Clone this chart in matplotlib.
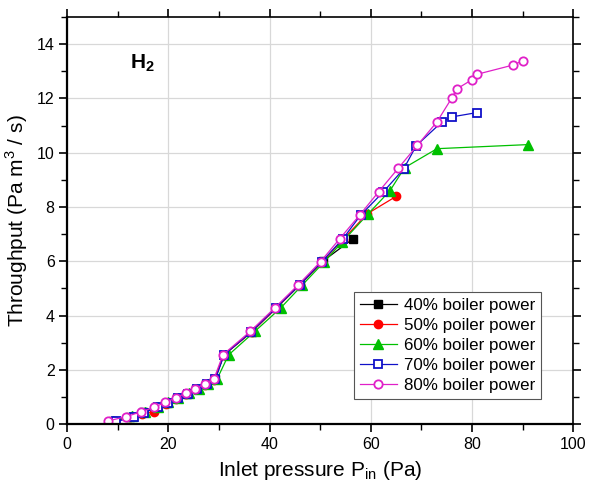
"""
H2 throughput vs inlet pressure for several boiler power levels.
"""
import matplotlib

matplotlib.use("Agg")
import matplotlib.pyplot as plt
from matplotlib.ticker import MultipleLocator

plt.rcParams["font.family"] = ["Liberation Sans", "DejaVu Sans"]
plt.rcParams["mathtext.fontset"] = "custom"
plt.rcParams["mathtext.rm"] = "Liberation Sans"
plt.rcParams["mathtext.bf"] = "Liberation Sans:bold"

# 40 % boiler power
p40 = [9.0, 12.5, 15.0, 17.5, 19.7, 21.7, 23.6, 25.5, 27.4, 29.2, 31.0, 36.5, 41.3, 46.0, 50.5, 56.5]
q40 = [0.10, 0.27, 0.44, 0.62, 0.79, 0.96, 1.13, 1.31, 1.48, 1.66, 2.56, 3.41, 4.28, 5.14, 6.00, 6.83]

# 50 % boiler power
p50 = [9.0, 12.5, 14.8, 17.2, 19.5, 21.5, 23.5, 25.4, 27.3, 29.1, 31.0, 36.5, 41.3, 46.0, 50.4, 54.5, 59.3, 65.0]
q50 = [0.10, 0.27, 0.38, 0.45, 0.75, 0.93, 1.10, 1.28, 1.46, 1.64, 2.55, 3.40, 4.27, 5.13, 5.98, 6.80, 7.75, 8.39]

# 60 % boiler power
p60 = [9.0, 12.8, 15.3, 18.0, 20.0, 22.0, 24.0, 26.0, 27.9, 29.6, 31.9, 37.1, 42.2, 46.5, 50.8, 54.4, 59.5, 63.8, 66.7, 73.1, 91.0]
q60 = [0.12, 0.30, 0.46, 0.63, 0.80, 0.97, 1.14, 1.31, 1.48, 1.65, 2.55, 3.42, 4.28, 5.13, 5.98, 6.72, 7.75, 8.60, 9.45, 10.15, 10.30]

# 70 % boiler power
p70 = [9.7, 13.3, 15.2, 17.9, 19.9, 21.9, 23.8, 25.7, 27.6, 29.3, 31.0, 36.4, 41.2, 46.0, 50.3, 54.5, 58.0, 62.5, 66.5, 69.0, 74.1, 76.0, 81.0]
q70 = [0.10, 0.26, 0.43, 0.62, 0.79, 0.96, 1.13, 1.30, 1.48, 1.65, 2.55, 3.40, 4.27, 5.13, 5.98, 6.83, 7.70, 8.56, 9.40, 10.26, 11.14, 11.32, 11.48]

# 80 % boiler power
p80 = [8.1, 11.7, 14.5, 17.2, 19.3, 21.5, 23.4, 25.3, 27.2, 29.0, 30.8, 36.2, 41.0, 45.7, 50.1, 53.9, 57.8, 61.6, 65.4, 69.2, 73.1, 76.0, 77.0, 80.0, 81.0, 88.1, 90.1]
q80 = [0.12, 0.28, 0.45, 0.62, 0.80, 0.97, 1.14, 1.31, 1.48, 1.66, 2.56, 3.42, 4.28, 5.14, 5.99, 6.84, 7.70, 8.57, 9.42, 10.27, 11.14, 12.01, 12.35, 12.69, 12.89, 13.23, 13.39]

fig = plt.figure(figsize=(5.89, 4.87), dpi=100)
ax = fig.add_axes([0.114, 0.129, 0.859, 0.836])

ax.plot(p40, q40, "-s", color="black", lw=0.9, ms=5.5, label="40% boiler power")
ax.plot(p50, q50, "-o", color="#ff0000", lw=0.9, ms=6, label="50% poiler power")
ax.plot(p60, q60, "-^", color="#00c000", lw=0.9, ms=7.5, label="60% boiler power")
ax.plot(p70, q70, "-s", color="#1010c8", lw=0.9, ms=5.5, mfc="white", mew=1.3,
        label="70% boiler power")
ax.plot(p80, q80, "-o", color="#e020c8", lw=0.9, ms=6, mfc="white", mew=1.3,
        label="80% boiler power")

ax.set_xlim(0, 100)
ax.set_ylim(0, 15)
ax.xaxis.set_major_locator(MultipleLocator(20))
ax.xaxis.set_minor_locator(MultipleLocator(10))
ax.yaxis.set_major_locator(MultipleLocator(2))
ax.yaxis.set_minor_locator(MultipleLocator(1))
ax.grid(True, which="major", color="#d8d8d8", lw=0.9)
ax.set_axisbelow(True)

ax.tick_params(which="both", direction="out", top=True, right=True, labelsize=11.5)
ax.tick_params(which="major", length=5.5, width=1.2)
ax.tick_params(which="minor", length=4, width=1.0)
for side in ["left", "bottom"]:
    ax.spines[side].set_linewidth(1.6)
for side in ["top", "right"]:
    ax.spines[side].set_linewidth(1.2)

ax.set_xlabel("Inlet pressure P$_{\\mathrm{in}}$ (Pa)", fontsize=15, labelpad=5)
ax.set_ylabel("Throughput (Pa m$^3$ / s)", fontsize=15, labelpad=5)

ax.text(12.5, 13.3, "H$_\\mathbf{2}$", fontsize=15, fontweight="bold", va="center")

leg = ax.legend(loc="lower right", bbox_to_anchor=(0.937, 0.062), fontsize=12.2,
                frameon=True, fancybox=False, edgecolor="#555555", framealpha=1,
                labelspacing=0.3, handlelength=2.2, handletextpad=0.4,
                borderpad=0.35, borderaxespad=0)
leg.get_frame().set_linewidth(0.8)

fig.savefig("out.png", dpi=100)
